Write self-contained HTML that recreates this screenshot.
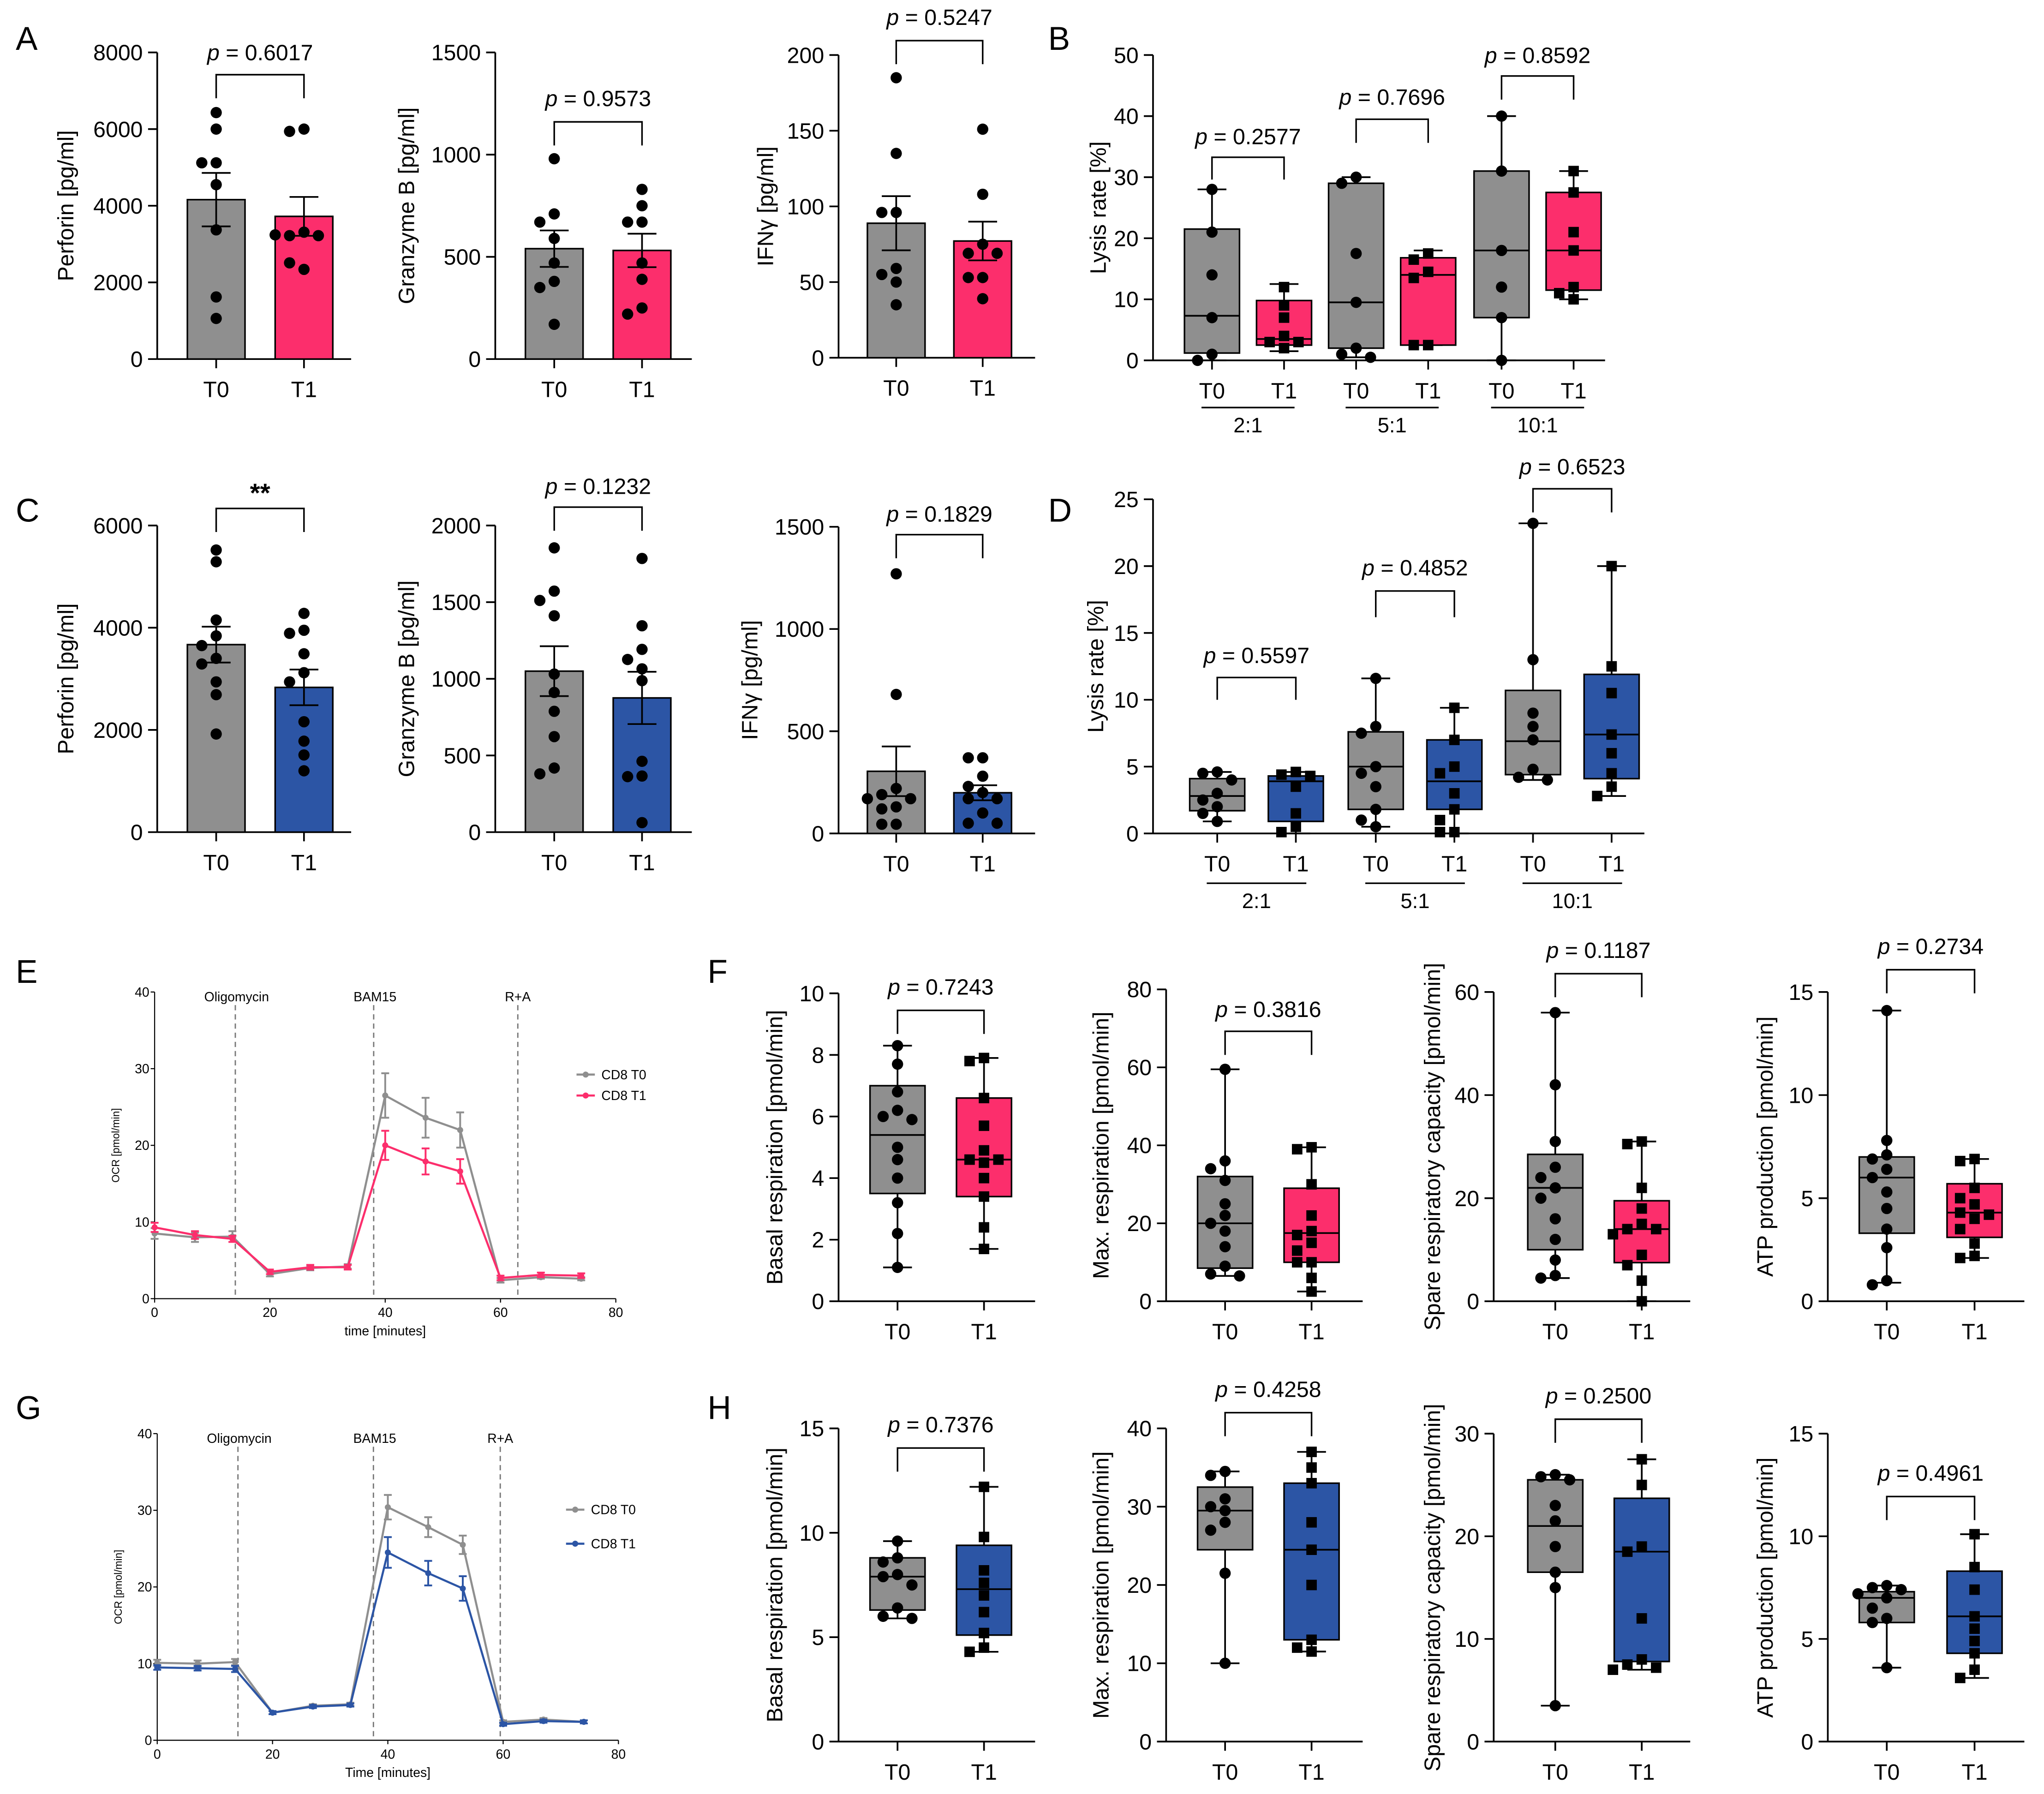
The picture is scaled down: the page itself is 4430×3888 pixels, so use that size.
<!DOCTYPE html>
<html><head><meta charset="utf-8"><style>html,body{margin:0;padding:0;background:#fff}svg{display:block}text{font-family:"Liberation Sans",sans-serif}</style></head>
<body>
<svg id="fig" xmlns="http://www.w3.org/2000/svg" width="4430" height="3888" viewBox="0 0 1560 1369" preserveAspectRatio="none"></svg>
<script>
// ---------- DATA ----------
const catsTT = ["T0","T1"];
const groupLabels = ["2:1","5:1","10:1"];
// A (bars)
const perforinA_T0 = [6430,6000,5120,5120,4550,3370,1620,1060];
const perforinA_T1 = [6000,5940,3310,3220,3220,3240,2340,2510];
const granzymeA_T0 = [980,710,670,590,470,380,350,170];
const granzymeA_T1 = [830,750,670,670,470,390,250,220];
const ifngA_T0 = [185,135,96,96,59,55,50,35];
const ifngA_T1 = [151,108,75,69,69,53,53,39];
// C (bars)
const perforinC_T0 = [5520,5290,4150,3840,3650,3400,3290,2940,2690,1920];
const perforinC_T1 = [4280,3950,3890,3490,3120,2940,2160,1780,1510,1200];
const granzymeC_T0 = [1854,1572,1511,1411,1031,911,788,623,418,380];
const granzymeC_T1 = [1785,1346,1192,1126,1065,988,462,366,362,62];
const ifngC_T0 = [1270,680,220,190,170,170,130,120,45,45];
const ifngC_T1 = [370,370,280,230,200,170,170,100,50,50];
// B (boxes): [min,q1,median,q3,max]
const lysisB_stats = [[0,1.2,7.3,21.5,28],[1.5,2.5,3.5,9.8,12.5],[0.5,2,9.5,29,30],[2.5,2.5,14,16.8,18],[0,7,18,31,40],[10,11.5,18,27.5,31]];
const lysisB_points = [[28,21,14,7,1,0],[12,9,7,4,3,2,3],[30,29,17.5,9.5,2,1,0.5],[17.5,16.5,14.5,13.5,2.5,2.5],[40,31,18,12,7,0],[31,27.5,21,18,12,11,10]];
const lysisD_stats = [[0.9,1.7,2.8,4.1,4.6],[0,0.9,3.9,4.3,4.6],[0.5,1.8,5.0,7.6,11.6],[0,1.8,3.9,7.0,9.4],[4.0,4.4,6.9,10.7,23.2],[2.8,4.1,7.4,11.9,20]];
const lysisD_points = [[4.6,4.5,4.0,3.0,2.5,2.0,1.5,0.9],[4.6,4.4,4.3,3.5,1.5,0.5,0.1],[11.6,8.0,7.5,5.0,4.5,3.5,1.8,1.0,0.5],[9.4,7.0,5.0,4.5,3.0,1.8,1.0,0.1,0.1],[23.2,13.0,9.0,8.0,7.0,4.8,4.2,4.0],[20,12.5,10.5,7.4,6.0,4.5,3.5,2.8]];
// F boxes
const basalF_stats = [[1.1,3.5,5.4,7.0,8.3],[1.7,3.4,4.6,6.6,7.9]];
const basalF_points = [[8.3,7.7,6.8,6.2,6.0,5.9,5.0,4.6,4.0,3.2,2.2,1.1],[7.9,7.8,6.6,5.7,4.9,4.6,4.6,4.5,4.0,3.4,2.4,1.7]];
const maxF_stats = [[6.5,8.5,20,32,59.5],[2.5,10,17.5,29,39.5]];
const maxF_points = [[59.5,36,34,31,25,22,20,18,14,9,7,6.5],[39.5,39,30,22,18,17,15,13,10,10,6,2.5]];
const spareF_stats = [[4.5,10,22,28.5,56],[0,7.5,14,19.5,31]];
const spareF_points = [[56,42,31,26,24,22,20,16,12,8,5,4.5],[31,30.5,22,18,15,14,14,13,9,7,4,0]];
const atpF_stats = [[0.9,3.3,6.0,7.0,14.1],[2.1,3.1,4.3,5.7,6.9]];
const atpF_points = [[14.1,7.8,7.1,6.9,6.4,6.0,5.3,4.5,3.5,2.6,1.0,0.8],[6.9,6.8,5.5,5.0,4.7,4.3,4.2,4.0,3.5,2.8,2.2,2.1]];
// H boxes
const basalH_stats = [[5.9,6.3,7.9,8.8,9.6],[4.3,5.1,7.3,9.4,12.2]];
const basalH_points = [[9.6,8.8,8.6,8.0,7.9,7.5,6.4,6.0,5.9],[12.2,9.8,8.2,7.6,7.0,6.2,5.2,4.5,4.3]];
const maxH_stats = [[10,24.5,29.5,32.5,34.5],[11.5,13,24.5,33,37]];
const maxH_points = [[34.5,34,31,30,29.5,28,27,21.5,10],[37,35,33,28,24.5,20,13,12,11.5]];
const spareH_stats = [[3.5,16.5,21,25.5,26],[7,7.8,18.5,23.7,27.5]];
const spareH_points = [[26,25.8,25.5,23,21.5,19,16.5,15,3.5],[27.5,25,19,18.5,12,8,7.5,7.2,7]];
const atpH_stats = [[3.6,5.8,7.0,7.3,7.6],[3.1,4.3,6.1,8.3,10.1]];
const atpH_points = [[7.6,7.5,7.4,7.2,7.0,6.5,6.0,5.8,3.6],[10.1,8.5,7.4,6.1,5.5,4.9,4.3,3.5,3.1]];
// OCR time courses
const ocrTimes = [0,7,13.5,20,27,33.5,40,47,53,60,67,74];
const ocrE_T0 = [8.5,8,8.1,3.2,4,4.2,26.5,23.6,22,2.4,2.8,2.6];
const ocrE_T1 = [9.3,8.3,7.8,3.5,4.1,4.1,20,17.9,16.6,2.7,3.1,3.0];
const ocrE_T0err = [0.7,0.6,0.7,0.3,0.3,0.3,2.9,2.6,2.3,0.3,0.2,0.2];
const ocrE_T1err = [0.6,0.5,0.4,0.3,0.3,0.3,1.9,1.7,1.6,0.3,0.3,0.3];
const ocrG_T0 = [10.1,10,10.2,3.6,4.5,4.7,30.4,27.8,25.5,2.4,2.7,2.4];
const ocrG_T1 = [9.5,9.4,9.3,3.6,4.4,4.6,24.5,21.8,19.8,2.1,2.5,2.4];
const ocrG_T0err = [0.4,0.4,0.4,0.2,0.2,0.2,1.6,1.3,1.2,0.2,0.2,0.2];
const ocrG_T1err = [0.3,0.3,0.4,0.2,0.2,0.2,2.0,1.6,1.6,0.2,0.2,0.2];
const injections = ["Oligomycin","BAM15","R+A"];
const injTimesE = [14,38,63];
const injTimesG = [14,37.5,59.5];
const pvals = {a1:"0.6017",a2:"0.9573",a3:"0.5247",b:["0.2577","0.7696","0.8592"],c2:"0.1232",c3:"0.1829",d:["0.5597","0.4852","0.6523"],f1:"0.7243",f2:"0.3816",f3:"0.1187",f4:"0.2734",h1:"0.7376",h2:"0.4258",h3:"0.2500",h4:"0.4961"};

// ---------- DRAWING ----------
const NS="http://www.w3.org/2000/svg";
const svg=document.getElementById('fig');
const GREY="#8f8f8f", PINK="#fc2e6c", BLUE="#2c55a5";
function el(tag,attrs,parent,txt){const e=document.createElementNS(NS,tag);for(const k in attrs)e.setAttribute(k,attrs[k]);if(txt!==undefined)e.textContent=txt;(parent||svg).appendChild(e);return e;}
function grp(name){const g=el('g',{});return g;}
const offs=[0,-11,11,-22,22,-33,33];
// beeswarm-like placement: avoid overlap
function placeDots(g,x,yvals,sq){
  const placed=[];
  yvals.forEach(y=>{
    let dx=0;
    for(const o of offs){ if(!placed.some(p=>Math.abs(p[1]-y)<8.5&&Math.abs(p[0]-o)<9.5)){dx=o;break;} }
    placed.push([dx,y]);
    if(sq) el('rect',{x:x+dx-4,y:y-4,width:8,height:8,fill:'#000'},g); else el('circle',{cx:x+dx,cy:y,r:4.3,fill:'#000'},g);
  });
}

function axes(P,g){
  const ys=v=>P.y0-(v/P.max)*(P.y0-P.yT);
  const ax=el('g',{},g);
  el('line',{x1:P.ax,y1:P.y0,x2:P.ax,y2:P.yT,stroke:'#000','stroke-width':1.3},ax);
  for(let v=0;v<=P.max+1e-9;v+=P.step){const y=ys(v);
    el('line',{x1:P.ax-7,y1:y,x2:P.ax,y2:y,stroke:'#000','stroke-width':1.3},ax);
    el('text',{x:P.ax-11,y:y+6,'font-size':17,'text-anchor':'end'},ax,String(v));}
  const t=el('text',{x:P.tx,y:(P.y0+P.yT)/2,'font-size':17,'text-anchor':'middle',transform:`rotate(-90 ${P.tx} ${(P.y0+P.yT)/2})`},g,P.title);
  
  const xa=el('g',{},g);
  el('line',{x1:P.ax,y1:P.y0,x2:P.xe,y2:P.y0,stroke:'#000','stroke-width':1.3},xa);
  P.xs.forEach((x,i)=>{el('line',{x1:x,y1:P.y0,x2:x,y2:P.y0+7,stroke:'#000','stroke-width':1.3},xa);
    el('text',{x:x,y:P.y0+29,'font-size':17,'text-anchor':'middle'},xa,catsTT[i%2]);});
  return ys;
}
function bracket(g,x1,x2,y,leg,label,ty){
  const b=el('g',{},g);
  el('path',{d:`M${x1},${y+leg}V${y}H${x2}V${y+leg}`,fill:'none',stroke:'#000','stroke-width':1.2},b);
  const t=el('text',{x:(x1+x2)/2,y:ty,'font-size':17,'text-anchor':'middle'},b);
  if(label==='**'){t.setAttribute('font-weight','bold');t.setAttribute('font-size',20);t.textContent='**';}
  else{el('tspan',{'font-style':'italic'},t,'p');el('tspan',{},t,' = '+label);}
}
function barPanel(name,P,d0,d1,col,pv,br){
  const g=grp(name);const ys=axes(P,g);
  [d0,d1].forEach((d,i)=>{const n=d.length,m=d.reduce((a,b)=>a+b,0)/n;
    const sd=Math.sqrt(d.reduce((a,b)=>a+(b-m)*(b-m),0)/(n-1)),se=sd/Math.sqrt(n);const x=P.xs[i];
    const r=el('rect',{x:x-22,y:ys(m),width:44,height:P.y0-ys(m),fill:i?col:GREY,stroke:'#000','stroke-width':1.2},g);
    
    el('path',{d:`M${x},${ys(m-se)}V${ys(m+se)}M${x-11},${ys(m+se)}H${x+11}M${x-11},${ys(m-se)}H${x+11}`,stroke:'#000','stroke-width':1.3,fill:'none'},g);
    placeDots(g,x,d.map(ys),false);
  });
  bracket(g,P.xs[0],P.xs[1],br[0],br[1],pv,br[2]);
}
function boxPanel(name,P,stats,pts,col,pvs,brs,groups){
  const g=grp(name);const ys=axes(P,g);
  stats.forEach((s,i)=>{const x=P.xs[i];const bx=el('g',{},g);
    
    el('path',{d:`M${x},${ys(s[0])}V${ys(s[4])}M${x-11},${ys(s[0])}H${x+11}M${x-11},${ys(s[4])}H${x+11}`,stroke:'#000','stroke-width':1.3,fill:'none'},bx);
    el('rect',{x:x-21,y:ys(s[3]),width:42,height:ys(s[1])-ys(s[3]),fill:i%2?col:GREY,stroke:'#000','stroke-width':1.2},bx);
    el('line',{x1:x-21,x2:x+21,y1:ys(s[2]),y2:ys(s[2]),stroke:'#000','stroke-width':1.3},bx);
    placeDots(bx,x,pts[i].map(ys),i%2===1);
  });
  pvs.forEach((p,k)=>bracket(g,P.xs[2*k],P.xs[2*k+1],brs[k][0],brs[k][1],p,brs[k][2]));
  if(groups){groupLabels.forEach((l,k)=>{const x1=P.xs[2*k]-8,x2=P.xs[2*k+1]+8;const gl=el('g',{},g);
    
    el('line',{x1:x1,x2:x2,y1:groups,y2:groups,stroke:'#000','stroke-width':1.2},gl);
    el('text',{x:(x1+x2)/2,y:groups+19,'font-size':16,'text-anchor':'middle'},gl,l);});}
}
function linePanel(name,P,t0,t1,e0,e1,col,inj,injT){
  const g=grp(name);const xs=v=>P.ax+v/80*(P.xe-P.ax), ys=v=>P.y0-v/40*(P.y0-P.yT);
  const ax=el('g',{},g);
  el('line',{x1:P.ax,y1:P.y0,x2:P.ax,y2:P.yT,stroke:'#000','stroke-width':0.8},ax);
  el('line',{x1:P.ax,y1:P.y0,x2:P.xe,y2:P.y0,stroke:'#000','stroke-width':0.8},ax);
  for(let v=0;v<=40;v+=10){el('line',{x1:P.ax-3,x2:P.ax,y1:ys(v),y2:ys(v),stroke:'#000','stroke-width':0.8},ax);
    el('text',{x:P.ax-4,y:ys(v)+3.5,'font-size':10,'text-anchor':'end'},ax,String(v));}
  for(let v=0;v<=80;v+=20){el('line',{x1:xs(v),x2:xs(v),y1:P.y0,y2:P.y0+3,stroke:'#000','stroke-width':0.8},ax);
    el('text',{x:xs(v),y:P.y0+14,'font-size':10,'text-anchor':'middle'},ax,String(v));}
  el('text',{x:(P.ax+P.xe)/2,y:P.y0+28,'font-size':10,'text-anchor':'middle'},ax,P.xlab);
  el('text',{x:P.ax-27,y:(P.y0+P.yT)/2,'font-size':8,'text-anchor':'middle',transform:`rotate(-90 ${P.ax-27} ${(P.y0+P.yT)/2})`},ax,'OCR [pmol/min]');
  inj.forEach((l,i)=>{const x=xs(injT[i]);el('line',{x1:x,x2:x,y1:P.yT+10,y2:P.y0,stroke:'#777','stroke-width':1,'stroke-dasharray':'4,3'},g);
    const t=el('text',{x:x-(i==2?0:-1),y:P.yT+7,'font-size':10,'text-anchor':'middle'},g,l);});
  [[t0,e0,GREY],[t1,e1,col]].forEach(([d,e,c],k)=>{const s=el('g',{},g);
    
    el('polyline',{points:d.map((v,i)=>xs(ocrTimes[i])+','+ys(v)).join(' '),fill:'none',stroke:c,'stroke-width':1.6},s);
    d.forEach((v,i)=>{const x=xs(ocrTimes[i]);el('path',{d:`M${x},${ys(v-e[i])}V${ys(v+e[i])}M${x-3},${ys(v-e[i])}H${x+3}M${x-3},${ys(v+e[i])}H${x+3}`,stroke:c,'stroke-width':1.4,fill:'none'},s);
      el('circle',{cx:x,cy:ys(v),r:2.3,fill:c},s);});});
  [["CD8 T0",GREY],["CD8 T1",col]].forEach(([l,c],k)=>{const y=P.lg[1]+k*P.lg[2];const lg=el('g',{},g);
    
    el('line',{x1:P.lg[0],x2:P.lg[0]+14,y1:y,y2:y,stroke:c,'stroke-width':1.6},lg);
    el('circle',{cx:P.lg[0]+7,cy:y,r:2.3,fill:c},lg);
    el('text',{x:P.lg[0]+19,y:y+3.5,'font-size':10},lg,l);});
}

// panel letters
[["A",12,38],["B",800,38],["C",12,398],["D",800,398],["E",12,750],["F",540,750],["G",12,1083],["H",540,1083]].forEach(([l,x,y])=>{
  const t=el('text',{x:x,y:y,'font-size':25},svg,l);});

barPanel('perforin-chart-a',{ax:120,y0:274,yT:40,max:8000,step:2000,xs:[165,232],xe:268,tx:56,title:'Perforin [pg/ml]'},perforinA_T0,perforinA_T1,PINK,pvals.a1,[57,18,46]);
barPanel('granzyme-chart-a',{ax:378,y0:274,yT:40,max:1500,step:500,xs:[423,490],xe:528,tx:316,title:'Granzyme B [pg/ml]'},granzymeA_T0,granzymeA_T1,PINK,pvals.a2,[93,18,81]);
barPanel('ifng-chart-a',{ax:640,y0:273,yT:42,max:200,step:50,xs:[684,750],xe:790,tx:590,title:'IFNγ [pg/ml]'},ifngA_T0,ifngA_T1,PINK,pvals.a3,[31,18,19]);
boxPanel('lysis-chart-b',{ax:880,y0:275,yT:42,max:50,step:10,xs:[925,980,1035,1090,1146,1201],xe:1225,tx:844,title:'Lysis rate [%]'},lysisB_stats,lysisB_points,PINK,pvals.b,[[120,17,110],[91,18,80],[58,18,48]],311);
barPanel('perforin-chart-c',{ax:120,y0:635,yT:401,max:6000,step:2000,xs:[165,232],xe:268,tx:56,title:'Perforin [pg/ml]'},perforinC_T0,perforinC_T1,BLUE,'**',[388,18,383]);
barPanel('granzyme-chart-c',{ax:378,y0:635,yT:401,max:2000,step:500,xs:[423,490],xe:528,tx:316,title:'Granzyme B [pg/ml]'},granzymeC_T0,granzymeC_T1,BLUE,pvals.c2,[387,18,377]);
barPanel('ifng-chart-c',{ax:640,y0:636,yT:402,max:1500,step:500,xs:[684,750],xe:790,tx:578,title:'IFNγ [pg/ml]'},ifngC_T0,ifngC_T1,BLUE,pvals.c3,[408,18,398]);
boxPanel('lysis-chart-d',{ax:880,y0:636,yT:381,max:25,step:5,xs:[929,989,1050,1110,1170,1230],xe:1255,tx:842,title:'Lysis rate [%]'},lysisD_stats,lysisD_points,BLUE,pvals.d,[[517,17,506],[451,20,439],[373,18,362]],674);
linePanel('ocr-chart-e',{ax:118,y0:991,yT:757,xe:470,xlab:'time  [minutes]',lg:[440,820,16]},ocrE_T0,ocrE_T1,ocrE_T0err,ocrE_T1err,PINK,injections,injTimesE);
boxPanel('basal-chart-f',{ax:640,y0:993,yT:758,max:10,step:2,xs:[685,751],xe:790,tx:597,title:'Basal respiration [pmol/min]'},basalF_stats,basalF_points,PINK,[pvals.f1],[[771,18,759]]);
boxPanel('max-chart-f',{ax:890,y0:993,yT:755,max:80,step:20,xs:[935,1001],xe:1040,tx:846,title:'Max. respiration [pmol/min]'},maxF_stats,maxF_points,PINK,[pvals.f2],[[787,18,776]]);
boxPanel('spare-chart-f',{ax:1140,y0:993,yT:757,max:60,step:20,xs:[1187,1253],xe:1290,tx:1099,title:'Spare respiratory capacity [pmol/min]'},spareF_stats,spareF_points,PINK,[pvals.f3],[[743,18,731]]);
boxPanel('atp-chart-f',{ax:1395,y0:993,yT:757,max:15,step:5,xs:[1440,1507],xe:1545,tx:1353,title:'ATP production [pmol/min]'},atpF_stats,atpF_points,PINK,[pvals.f4],[[740,18,728]]);
linePanel('ocr-chart-g',{ax:120,y0:1328,yT:1094,xe:472,xlab:'Time  [minutes]',lg:[432,1152,26]},ocrG_T0,ocrG_T1,ocrG_T0err,ocrG_T1err,BLUE,injections,injTimesG);
boxPanel('basal-chart-h',{ax:640,y0:1329,yT:1090,max:15,step:5,xs:[685,751],xe:790,tx:597,title:'Basal respiration [pmol/min]'},basalH_stats,basalH_points,BLUE,[pvals.h1],[[1105,18,1093]]);
boxPanel('max-chart-h',{ax:890,y0:1329,yT:1090,max:40,step:10,xs:[935,1001],xe:1040,tx:846,title:'Max. respiration  [pmol/min]'},maxH_stats,maxH_points,BLUE,[pvals.h2],[[1078,18,1066]]);
boxPanel('spare-chart-h',{ax:1140,y0:1329,yT:1094,max:30,step:10,xs:[1187,1253],xe:1290,tx:1099,title:'Spare respiratory capacity [pmol/min]'},spareH_stats,spareH_points,BLUE,[pvals.h3],[[1083,18,1071]]);
boxPanel('atp-chart-h',{ax:1395,y0:1329,yT:1094,max:15,step:5,xs:[1440,1507],xe:1545,tx:1353,title:'ATP production [pmol/min]'},atpH_stats,atpH_points,BLUE,[pvals.h4],[[1142,18,1130]]);
</script>
</body></html>
